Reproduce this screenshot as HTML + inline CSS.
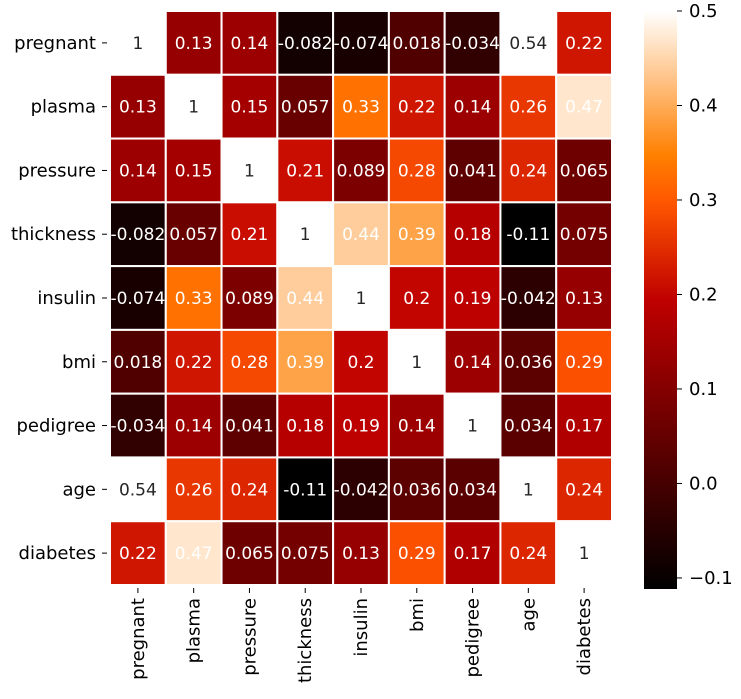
<!DOCTYPE html>
<html><head><meta charset="utf-8"><style>
body{margin:0;background:#fff;width:741px;height:694px;overflow:hidden;font-family:"Liberation Sans","DejaVu Sans",sans-serif;}
svg text{font-family:"DejaVu Sans","Liberation Sans",sans-serif;}
</style></head><body>
<svg id="chart" width="741" height="694" xmlns="http://www.w3.org/2000/svg"></svg>
<script>
const labels = ["pregnant","plasma","pressure","thickness","insulin","bmi","pedigree","age","diabetes"];
const row0 = [1,0.13,0.14,-0.082,-0.074,0.018,-0.034,0.54,0.22];
const row1 = [0.13,1,0.15,0.057,0.33,0.22,0.14,0.26,0.47];
const row2 = [0.14,0.15,1,0.21,0.089,0.28,0.041,0.24,0.065];
const row3 = [-0.082,0.057,0.21,1,0.44,0.39,0.18,-0.11,0.075];
const row4 = [-0.074,0.33,0.089,0.44,1,0.2,0.19,-0.042,0.13];
const row5 = [0.018,0.22,0.28,0.39,0.2,1,0.14,0.036,0.29];
const row6 = [-0.034,0.14,0.041,0.18,0.19,0.14,1,0.034,0.17];
const row7 = [0.54,0.26,0.24,-0.11,-0.042,0.036,0.034,1,0.24];
const row8 = [0.22,0.47,0.065,0.075,0.13,0.29,0.17,0.24,1];
const cbTicks = [0.5,0.4,0.3,0.2,0.1,0.0,-0.1];
const rows = [row0,row1,row2,row3,row4,row5,row6,row7,row8];
const vmin=-0.1117, vmax=0.5;
const NS="http://www.w3.org/2000/svg";
const svg=document.getElementById('chart');
const L=110,R=612,T=11,B=585;
const cw=(R-L)/labels.length, ch=(B-T)/labels.length;
function cmap(v){let x=(v-vmin)/(vmax-vmin);x=Math.max(0,Math.min(1,x));
const c=t=>Math.round(255*Math.max(0,Math.min(1,t)));
return `rgb(${c(1.5*x)},${c(2*x-1)},${c(4*x-3)})`;}
function mk(tag,attrs){const e=document.createElementNS(NS,tag);for(const k in attrs)e.setAttribute(k,attrs[k]);svg.appendChild(e);return e;}
function fmt(v){return v===1?"1":String(v);}
rows.forEach((r,i)=>r.forEach((v,j)=>{
 const rect=mk('rect',{x:L+j*cw,y:T+i*ch,width:cw,height:ch,fill:cmap(v),stroke:'#fff','stroke-width':2});
 
 
 const t=mk('text',{x:L+(j+0.5)*cw,y:T+(i+0.5)*ch+6,'text-anchor':'middle','font-size':17,fill:v>0.5?'#262626':'#fff'});
 t.textContent=fmt(v);
 
 
}));
labels.forEach((lab,i)=>{
 const y=T+(i+0.5)*ch;
 const t=mk('text',{x:L-14,y:y+6,'text-anchor':'end','font-size':18,fill:'#000'});t.textContent=lab;
 
 
 mk('line',{x1:L-8,x2:L-3,y1:y,y2:y,stroke:'#000'});
 const x=L+(i+0.5)*cw;
 mk('line',{x1:x,x2:x,y1:B+3,y2:B+8,stroke:'#000'});
 const tx=mk('text',{x:x+6,y:B+13,'text-anchor':'end','font-size':18,fill:'#000',transform:`rotate(-90 ${x+6} ${B+13})`});tx.textContent=lab;
 
 
});
const cbL=644,cbR=677,cbT=11,cbB=589;
const defs=mk('defs',{});
const g=document.createElementNS(NS,'linearGradient');g.setAttribute('id','cb');g.setAttribute('x1',0);g.setAttribute('y1',1);g.setAttribute('x2',0);g.setAttribute('y2',0);defs.appendChild(g);
for(let k=0;k<=40;k++){const s=document.createElementNS(NS,'stop');s.setAttribute('offset',k/40);s.setAttribute('stop-color',cmap(vmin+(vmax-vmin)*k/40));g.appendChild(s);}
const cb=mk('rect',{x:cbL,y:cbT,width:cbR-cbL,height:cbB-cbT,fill:'url(#cb)'});


const cy=v=>cbB-(v-vmin)/(vmax-vmin)*(cbB-cbT);
cbTicks.forEach(v=>{const y=cy(v);
 mk('line',{x1:cbR,x2:cbR+5,y1:y,y2:y,stroke:'#000'});
 const t=mk('text',{x:cbR+12,y:y+6,'font-size':18,fill:'#000'});t.textContent=(v<0?'\u2212':'')+Math.abs(v).toFixed(1);
 
 
});
</script>
</body></html>
